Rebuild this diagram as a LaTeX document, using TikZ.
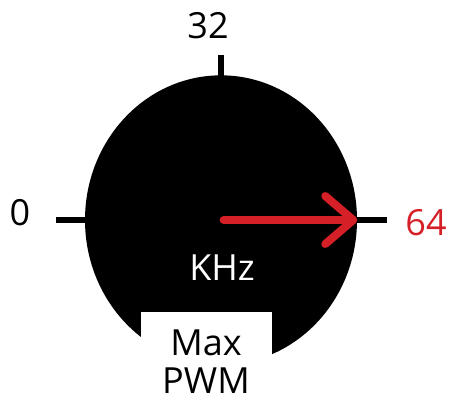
\documentclass[tikz,border=0pt]{standalone}
\usepackage{fontspec}
\setmainfont{Open Sans}
\usetikzlibrary{arrows.meta, shapes.geometric}
\definecolor{needlered}{RGB}{214,32,40}

\begin{document}
\begin{tikzpicture}[x=0.75pt, y=-0.75pt, every node/.style={font=\fontsize{27}{32}\selectfont},
    tick/.style={line width=4.5pt},
    needle/.style={line width=6pt, needlered, line cap=round,
        -{Straight Barb[length=21pt, width=36pt, line cap=round, line join=round]}}]

    \useasboundingbox (0,0) rectangle (454,404);

    % Dial
    \node[ellipse, fill=black, inner sep=0pt, minimum width=204pt, minimum height=217pt] (dial) at (221,220) {};

    % ticks
    \coordinate (t0) at (56,220);
    \coordinate (t32) at (221,55);
    \coordinate (t64) at (387,220);
    \draw[tick] (t0) -- (dial.west);
    \draw[tick] (t32) -- ([yshift=-16pt]dial.north);
    \draw[tick] (dial.east) -- (t64);

    % scale labels
    \node[anchor=base] (lbl0) at (20,225) {0};
    \node[anchor=base] (lbl32) at (208,38) {32};
    \node[anchor=base, text=needlered] (lbl64) at (426,235) {64};

    % needle
    \draw[needle] ([xshift=2pt]dial.center) -- (dial.east);

    % unit
    \node[anchor=base, text=white] (unit) at (222,280) {KHz};

    % Max PWM
    \node[fill=white, inner sep=0pt, minimum width=98pt, minimum height=69pt, anchor=north] (pwmbox) at (206.5,312) {};
    \node[anchor=base, inner sep=0pt] (maxtxt) at (206,355) {Max};
    \node[anchor=base, inner sep=0pt] (pwmtxt) at (206,393) {PWM};

\end{tikzpicture}
\end{document}
